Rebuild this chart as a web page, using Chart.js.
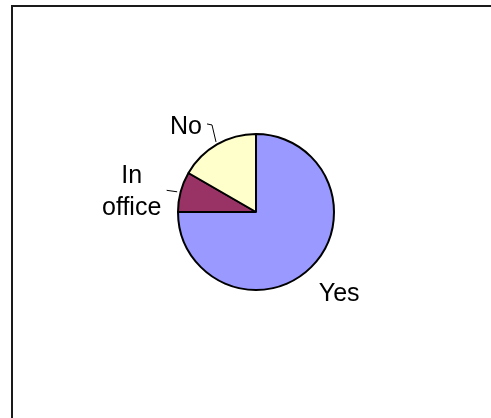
<!DOCTYPE html>
<html>
<head>
<meta charset="utf-8">
<title>Pie</title>
<script src="https://cdn.jsdelivr.net/npm/chart.js@4/dist/chart.umd.min.js"></script>
<style>
  body { margin: 0; background: #fff; }
  #wrap { position: relative; width: 491px; height: 418px; }
</style>
</head>
<body>
<div id="wrap"><canvas id="pieChart"></canvas></div>
<script>
const categories = ["Yes", "In office", "No"];
const values = [18, 2, 4];
const sliceColors = ["#9999FF", "#993366", "#FFFFCC"];

// label placement relative to the outer edge point of each slice
const labelLayout = [
  { lines: ["Yes"], dx: 28, dy: 33.5, lineGap: 32, leader: null },
  { lines: ["In", "office"], dx: -49, dy: -8.5, lineGap: 32, leader: [[-3.5, 0], [-14, -1.5]] },
  { lines: ["No"], dx: -31, dy: -10.5, lineGap: 32, leader: [[-1, -2.5], [-5, -19.5], [-10, -20.5]] }
];

// open frame: only the top and left edges fall inside the page
const framePlugin = {
  id: "frame",
  beforeDraw(chart) {
    const ctx = chart.ctx;
    ctx.save();
    ctx.fillStyle = "#fff";
    ctx.fillRect(0, 0, chart.width, chart.height);
    ctx.fillStyle = "#1a1a1a";
    ctx.fillRect(11, 5, chart.width - 11, 2);
    ctx.fillRect(11, 5, 2, chart.height - 5);
    ctx.restore();
  }
};

const sliceLabels = {
  id: "sliceLabels",
  afterDatasetsDraw(chart) {
    const ctx = chart.ctx;
    const arcs = chart.getDatasetMeta(0).data;
    ctx.save();
    ctx.font = "25px 'Liberation Sans', Arial, sans-serif";
    ctx.fillStyle = "#000";
    ctx.strokeStyle = "#000";
    ctx.lineWidth = 1;
    ctx.textAlign = "center";
    ctx.textBaseline = "alphabetic";
    arcs.forEach((arc, i) => {
      const p = arc.getProps(["x", "y", "startAngle", "endAngle", "outerRadius"], true);
      const mid = (p.startAngle + p.endAngle) / 2;
      const ex = p.x + Math.cos(mid) * p.outerRadius;
      const ey = p.y + Math.sin(mid) * p.outerRadius;
      const lay = labelLayout[i];
      if (lay.leader) {
        ctx.beginPath();
        lay.leader.forEach((pt, k) => {
          const lx = ex + pt[0], ly = ey + pt[1];
          if (k === 0) ctx.moveTo(lx, ly); else ctx.lineTo(lx, ly);
        });
        ctx.stroke();
      }
      lay.lines.forEach((line, k) => {
        ctx.fillText(line, ex + lay.dx, ey + lay.dy + k * lay.lineGap);
      });
    });
    ctx.restore();
  }
};

new Chart(document.getElementById("pieChart"), {
  type: "pie",
  data: {
    labels: categories,
    datasets: [{
      data: values,
      backgroundColor: sliceColors,
      borderColor: "#000",
      borderWidth: 2,
      radius: 78
    }]
  },
  options: {
    responsive: true,
    maintainAspectRatio: false,
    animation: false,
    events: [],
    layout: { padding: { left: 100, right: 79, top: 60, bottom: 54 } },
    plugins: {
      legend: { display: false },
      tooltip: { enabled: false }
    }
  },
  plugins: [framePlugin, sliceLabels]
});
</script>
</body>
</html>
